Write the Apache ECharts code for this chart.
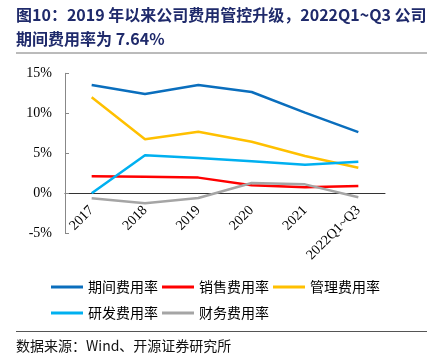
<!DOCTYPE html>
<html><head><meta charset="utf-8">
<script src="https://cdn.jsdelivr.net/npm/echarts@6/dist/echarts.min.js"></script>
<style>html,body{margin:0;padding:0;background:#fff}#c{width:438px;height:363px}</style>
</head><body><div id="c"></div>
<script>
const categories = ['2017','2018','2019','2020','2021','2022Q1~Q3'];
const periodRate = [13.54, 12.41, 13.54, 12.66, 10.08, 7.64];
const salesRate = [2.12, 2.08, 1.96, 1.00, 0.75, 0.91];
const adminRate = [12.0, 6.75, 7.7, 6.45, 4.66, 3.2];
const rdRate = [0.0, 4.75, 4.41, 4.0, 3.58, 3.95];
const finRate = [-0.62, -1.25, -0.58, 1.29, 1.12, -0.5];
const seriesNames = ['期间费用率','销售费用率','管理费用率','研发费用率','财务费用率'];
const colors = ['#0a6ebd','#ff0000','#ffc000','#00b0f0','#a5a5a5'];
const yTicks = [-5, 0, 5, 10, 15];

const chart = echarts.init(document.getElementById('c'));
const serif = '"Liberation Serif","DejaVu Serif",serif';
const cjk = '"Noto Sans CJK SC",sans-serif';
const data = [periodRate, salesRate, adminRate, rdRate, finRate];
chart.setOption({
  animation: false,
  grid: {left: 65, right: 53, top: 73.3, height: 160},
  xAxis: [{
    type: 'category', data: categories, boundaryGap: true,
    axisLine: {onZero: true, lineStyle: {color: '#333', width: 1}},
    axisTick: {inside: true, length: 4, lineStyle: {color: '#333'}},
    axisLabel: {show: false}
  }, {
    type: 'category', data: categories, boundaryGap: true, position: 'bottom', offset: -40,
    axisLine: {show: false, onZero: false}, axisTick: {show: false},
    axisLabel: {rotate: 45, margin: 15, fontFamily: serif, fontSize: 14, color: '#000'}
  }],
  yAxis: {
    type: 'value', min: yTicks[0], max: yTicks[yTicks.length-1], interval: 5,
    axisLine: {show: true, lineStyle: {color: '#888'}},
    axisTick: {show: true, inside: true, length: 4, lineStyle: {color: '#888'}},
    splitLine: {show: false},
    axisLabel: {formatter: v => v + '%', margin: 13, fontFamily: serif, fontSize: 14, color: '#000'}
  },
  legend: [
    {data: seriesNames.slice(0,3), left: 46, top: 275, itemWidth: 32, itemHeight: 3, itemGap: 4, icon: 'rect',
     textStyle: {fontFamily: cjk, fontSize: 14, color: '#000'}},
    {data: seriesNames.slice(3), left: 46, top: 301, itemWidth: 32, itemHeight: 3, itemGap: 4, icon: 'rect',
     textStyle: {fontFamily: cjk, fontSize: 14, color: '#000'}}
  ],
  series: seriesNames.map((n, i) => ({
    name: n, type: 'line', data: data[i], symbol: 'none', xAxisIndex: 0,
    lineStyle: {width: 2.5, color: colors[i]}, itemStyle: {color: colors[i]}
  })),
  graphic: [
    {type: 'text', left: 16, top: 7, style: {text: '图10：2019 年以来公司费用管控升级，2022Q1~Q3 公司', font: 'bold 16px ' + cjk, fill: '#1f2a6b'}},
    {type: 'text', left: 16, top: 31, style: {text: '期间费用率为 7.64%', font: 'bold 16px ' + cjk, fill: '#1f2a6b'}},
    {type: 'line', shape: {x1: 16, y1: 53, x2: 427, y2: 53}, style: {stroke: '#777', lineWidth: 1}},
    {type: 'line', shape: {x1: 16, y1: 331.5, x2: 427, y2: 331.5}, style: {stroke: '#555', lineWidth: 1}},
    {type: 'text', left: 16, top: 339, style: {text: '数据来源：Wind、开源证券研究所', font: '14px ' + cjk, fill: '#111'}}
  ]
});
</script></body></html>
